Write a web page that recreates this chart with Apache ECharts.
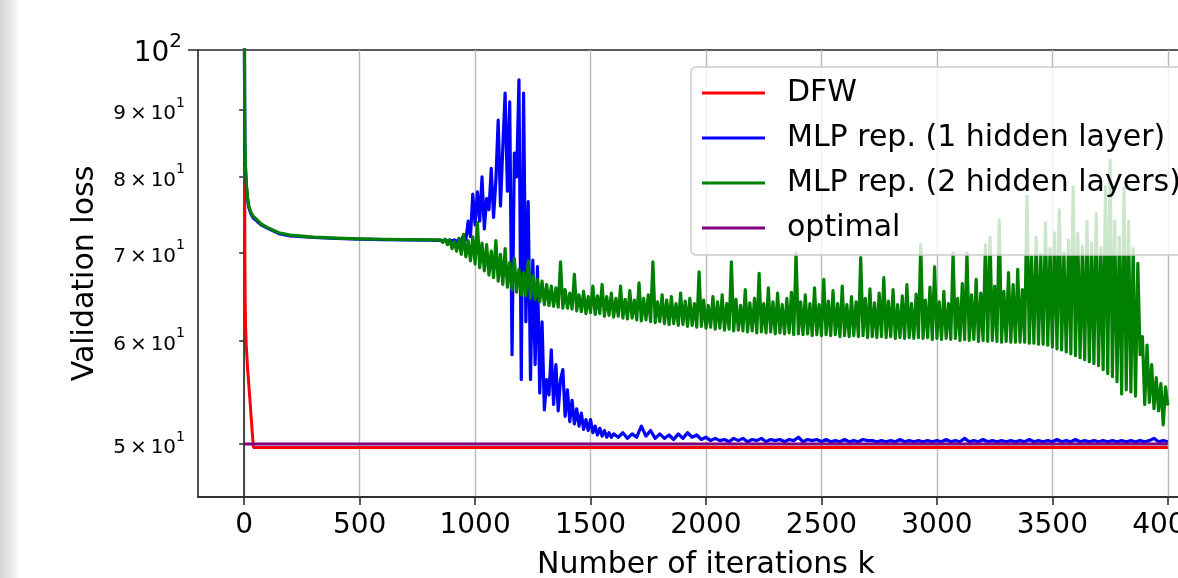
<!DOCTYPE html>
<html><head><meta charset="utf-8">
<script src="https://cdn.jsdelivr.net/npm/echarts@6/dist/echarts.min.js"></script>
<style>html,body{margin:0;padding:0;background:#fff;}#c{width:1178px;height:578px;}</style>
</head><body><div id="c"></div>
<script>
// ---- tick values ----
const xTicks = [0, 500, 1000, 1500, 2000, 2500, 3000, 3500, 4000];
const yMinorTicks = [50, 60, 70, 80, 90];
const yMajorTicks = [100];

// ---- series names ----
const seriesNames = ['DFW', 'MLP rep. (1 hidden layer)', 'MLP rep. (2 hidden layers)', 'optimal'];

// ---- DFW ----
const dfwK = [0, 1, 2, 3, 4, 6, 9, 15, 20, 25, 30, 35, 40, 4000];
const dfwLoss = [140, 100, 80, 70, 65, 61.5, 59.5, 57, 55.5, 54, 52.5, 51, 49.7, 49.7];

// ---- optimal ----
const optimalK = [0, 4000];
const optimalLoss = [50, 50];

// ---- warm-up (smooth) part of the MLP curves ----
const warmupK = [0, 1, 2, 3, 5, 7, 10, 15, 20, 30, 40, 55, 75, 100, 150, 200, 300, 400, 500, 600, 700, 800, 840];
const mlp1WarmupLoss = [140, 103, 91.5, 85, 81.6, 80.2, 78.5, 76.8, 75.8, 74.9, 74.4, 74.0, 73.5, 73.1, 72.4, 72.1, 71.9, 71.78, 71.7, 71.64, 71.6, 71.56, 71.55];
const mlp2WarmupLoss = [140, 104, 92, 85.4, 82, 80.5, 78.8, 77, 76, 75.1, 74.6, 74.2, 73.6, 73.2, 72.5, 72.2, 71.95, 71.82, 71.74, 71.68, 71.63, 71.6, 71.6];

// ---- MLP 1 hidden layer: iterations 850..1600, every 10 ----
const mlp1SpikeStart = 850, mlp1SpikeStep = 10;
const mlp1SpikeLoss = [
  71.55, 71.5, 71.6, 71.45, 71.6,
  71.5, 71.6, 71.4, 71.7, 71.5, 72.2, 71.6, 74.0, 72.0, 77.6,
  73.5, 77.9, 74.0, 80.0, 73.0, 77.0, 75.5, 81.2, 74.5, 79.5,
  88.4, 76.0, 84.2, 92.7, 78.0, 91.3, 58.5, 83.4, 80.0, 94.9,
  56.0, 92.7, 62.0, 76.6, 56.0, 69.1, 57.5, 68.3, 54.7, 62.0,
  53.1, 56.0, 54.5, 59.0, 53.6, 57.5, 53.0, 56.0, 57.0, 52.5,
  55.0, 52.0, 54.0, 51.8, 53.2, 51.6, 52.8, 51.3, 52.2, 51.2,
  52.2, 51.0, 51.6, 50.8, 51.4, 50.7, 51.2, 50.6, 51.0, 50.6, 50.9
];
// ---- MLP 1 hidden layer: iterations 1620..4000, every 20 ----
const mlp1TailStart = 1620, mlp1TailStep = 20;
const mlp1TailLoss = [
  50.6, 51.0, 50.5, 50.9, 50.6, 51.6, 50.7, 51.2, 50.5, 50.9,
  50.5, 50.8, 50.4, 50.9, 50.5, 51.0, 50.6, 50.8, 50.4, 50.6,
  50.3, 50.5, 50.3, 50.4, 50.2, 50.5, 50.3, 50.5, 50.2, 50.4,
  50.3, 50.5, 50.2, 50.4, 50.3, 50.4, 50.2, 50.4, 50.3, 50.6,
  50.2, 50.4, 50.3, 50.4, 50.2, 50.4, 50.2, 50.3, 50.2, 50.4,
  50.2, 50.3, 50.2, 50.4, 50.3, 50.3, 50.2, 50.3, 50.2, 50.3,
  50.2, 50.4, 50.2, 50.3, 50.2, 50.3, 50.2, 50.3, 50.2, 50.3,
  50.2, 50.4, 50.2, 50.3, 50.2, 50.5, 50.2, 50.3, 50.2, 50.4,
  50.2, 50.3, 50.2, 50.3, 50.2, 50.3, 50.2, 50.3, 50.2, 50.4,
  50.2, 50.3, 50.2, 50.3, 50.2, 50.4, 50.2, 50.3, 50.2, 50.4,
  50.2, 50.3, 50.2, 50.3, 50.2, 50.3, 50.2, 50.3, 50.2, 50.3,
  50.2, 50.3, 50.2, 50.3, 50.2, 50.3, 50.5, 50.2, 50.3, 50.2
];

// ---- MLP 2 hidden layers: iterations 850..4000, every 10 ----
const mlp2NoisyStart = 850, mlp2NoisyStep = 10;
const mlp2NoisyLoss = [
  71.6, 71.3, 71.7, 71.0, 71.6, 70.5, 71.4, 70.2, 71.8, 69.8,
  72.3, 69.5, 71.5, 69.0, 72.0, 68.6, 73.8, 68.2, 71.2, 67.8,
  71.0, 67.3, 70.2, 67.0, 71.5, 66.6, 69.8, 66.2, 70.5, 65.9,
  68.8, 65.6, 69.3, 65.3, 68.0, 65.0, 67.6, 64.9, 69.0, 64.6,
  67.2, 64.5, 66.8, 64.2, 66.6, 63.9, 66.2, 63.8, 66.0, 63.7,
  65.8, 63.6, 68.9, 63.5, 65.6, 63.5, 65.2, 63.4, 67.4, 63.2,
  65.0, 63.1, 65.4, 62.9, 64.8, 63.0, 66.0, 62.8, 64.9, 62.9,
  66.2, 62.6, 64.8, 62.7, 65.2, 62.5, 64.6, 62.6, 66.0, 62.4,
  64.5, 62.3, 65.5, 62.4, 64.4, 62.2, 66.4, 62.1, 64.6, 62.2,
  65.0, 62.0, 68.9, 61.9, 64.2, 62.0, 65.0, 61.8, 64.4, 61.7,
  64.8, 61.8, 64.0, 61.6, 65.2, 61.7, 64.3, 61.5, 64.6, 61.6,
  64.0, 61.4, 67.7, 61.5, 64.4, 61.3, 63.8, 61.4, 64.8, 61.2,
  64.2, 61.3, 65.0, 61.1, 64.0, 61.2, 68.9, 61.0, 64.5, 61.1,
  63.8, 61.0, 65.6, 60.9, 64.1, 61.0, 64.6, 60.8, 67.5, 60.9,
  64.0, 60.8, 65.8, 60.9, 64.2, 60.7, 65.2, 60.8, 63.9, 60.7,
  64.6, 60.8, 65.3, 60.6, 70.0, 60.7, 64.2, 60.6, 65.0, 60.7,
  64.0, 60.5, 65.8, 60.6, 63.9, 60.5, 66.8, 60.6, 64.3, 60.5,
  65.5, 60.6, 64.0, 60.4, 66.0, 60.5, 63.9, 60.4, 64.8, 60.5,
  64.2, 60.4, 69.4, 60.5, 64.6, 60.3, 65.7, 60.4, 64.1, 60.3,
  65.2, 60.4, 67.0, 60.3, 64.3, 60.4, 65.6, 60.2, 63.9, 60.3,
  64.9, 60.2, 66.2, 60.3, 64.0, 60.2, 65.1, 60.3, 71.0, 60.2,
  64.4, 60.3, 65.9, 60.1, 68.3, 60.2, 64.2, 60.1, 65.4, 60.2,
  64.0, 60.1, 70.0, 60.2, 64.6, 60.0, 66.3, 60.1, 70.0, 60.0,
  65.0, 60.1, 66.8, 59.9, 65.2, 60.0, 71.0, 59.9, 72.0, 60.0,
  66.0, 59.9, 74.2, 59.8, 65.4, 59.9, 67.6, 59.8, 66.2, 59.8,
  68.0, 59.8, 65.6, 59.8, 77.3, 59.7, 69.5, 59.7, 72.0, 59.6,
  69.8, 59.6, 73.8, 59.5, 70.5, 59.3, 72.5, 59.1, 75.5, 59.0,
  70.0, 58.8, 71.6, 58.6, 78.6, 58.4, 72.4, 58.2, 70.8, 58.0,
  74.0, 57.8, 71.2, 57.6, 75.0, 57.4, 70.6, 57.0, 78.6, 56.6,
  82.4, 56.3, 74.0, 55.8, 72.0, 54.6, 78.4, 55.0, 74.0, 54.8,
  70.5, 54.4, 68.7, 58.5, 60.4, 53.6, 59.5, 53.8, 57.5, 53.2,
  56.2, 53.0, 55.6, 51.7, 55.3, 53.5
];

// ---- helpers that pair iterations with values ----
function pairs(ks, vs) { return ks.map((k, i) => [k, vs[i]]); }
function stepped(start, step, vs) { return vs.map((v, i) => [start + i * step, v]); }

const FONT = 'DejaVu Sans';
const chart = echarts.init(document.getElementById('c'), null, { renderer: 'canvas' });

function minorLabel(v) {
  const d = Math.round(v / 10);
  return '{m|' + d + '\u2009×\u200910}{s|1}';
}
function majorLabel(v) {
  return '{m|10}{s|2}';
}

const lineBase = { type: 'line', symbol: 'none', showSymbol: false, clip: true, animation: false, sampling: null };

chart.setOption({
  animation: false,
  backgroundColor: '#ffffff',
  graphic: [{
    type: 'rect', left: 0, top: 0, shape: { width: 20, height: 578 }, silent: true, z: 0,
    style: { fill: new echarts.graphic.LinearGradient(0, 0, 1, 0, [
      { offset: 0, color: '#d4d4d4' }, { offset: 0.5, color: '#e6e6e6' }, { offset: 1, color: '#ffffff' }]) }
  }],
  grid: {
    left: 198, top: 50, width: 1016, height: 447,
    outerBoundsMode: 'none', containLabel: false,
    show: true, borderColor: '#262626', borderWidth: 1.6, backgroundColor: 'transparent'
  },
  legend: {
    orient: 'vertical', left: 691, top: 67,
    data: seriesNames.map(n => ({ name: n, icon: 'rect' })),
    itemWidth: 63, itemHeight: 3, itemGap: 11,
    padding: [9, 14, 10, 11],
    backgroundColor: 'rgba(255,255,255,0.8)',
    borderColor: '#cccccc', borderWidth: 1.5, borderRadius: 5,
    textStyle: { fontFamily: FONT, fontSize: 30, color: '#000', lineHeight: 34, padding: [0, 0, 0, 17] },
    z: 10
  },
  xAxis: {
    type: 'value', min: -200, max: 4200,
    axisLine: { show: true, lineStyle: { color: '#262626', width: 1.6 } },
    axisTick: { show: true, customValues: xTicks, length: 8, lineStyle: { color: '#262626', width: 1.5 } },
    axisLabel: { customValues: xTicks, formatter: v => String(v), fontFamily: FONT, fontSize: 28, color: '#000', margin: 15 },
    splitLine: { show: true, lineStyle: { color: '#b8b8b8', width: 1.4 } },
    name: 'Number of iterations k', nameLocation: 'middle', nameGap: 53,
    nameTextStyle: { fontFamily: FONT, fontSize: 30, color: '#000' }
  },
  yAxis: [{
    type: 'log', logBase: 10, min: 45.55, max: 100, position: 'left',
    axisLine: { show: true, lineStyle: { color: '#262626', width: 1.6 } },
    splitLine: { show: false }, minorTick: { show: false }, minorSplitLine: { show: false },
    axisTick: { show: true, customValues: yMinorTicks, length: 5, lineStyle: { color: '#262626', width: 1.5 } },
    axisLabel: {
      customValues: yMinorTicks, margin: 13, formatter: minorLabel,
      rich: {
        m: { fontFamily: FONT, fontSize: 20, color: '#000', lineHeight: 28, verticalAlign: 'bottom' },
        s: { fontFamily: FONT, fontSize: 14, color: '#000', lineHeight: 14, verticalAlign: 'top' }
      }
    },
    name: 'Validation loss', nameLocation: 'middle', nameGap: 98, nameRotate: 90,
    nameTextStyle: { fontFamily: FONT, fontSize: 30, color: '#000' }
  }, {
    type: 'log', logBase: 10, min: 45.55, max: 100, position: 'left',
    axisLine: { show: false }, splitLine: { show: false }, minorTick: { show: false },
    axisTick: { show: true, customValues: yMajorTicks, length: 10, lineStyle: { color: '#262626', width: 1.5 } },
    axisLabel: {
      customValues: yMajorTicks, margin: 16, formatter: majorLabel,
      rich: {
        m: { fontFamily: FONT, fontSize: 28, color: '#000', lineHeight: 36, verticalAlign: 'bottom' },
        s: { fontFamily: FONT, fontSize: 20, color: '#000', lineHeight: 20, verticalAlign: 'top' }
      }
    }
  }],
  series: [
    Object.assign({}, lineBase, { name: seriesNames[0], data: pairs(dfwK, dfwLoss),
      lineStyle: { color: '#ff0000', width: 3 }, itemStyle: { color: '#ff0000' }, z: 2 }),
    Object.assign({}, lineBase, { name: seriesNames[1],
      data: pairs(warmupK, mlp1WarmupLoss).concat(stepped(mlp1SpikeStart, mlp1SpikeStep, mlp1SpikeLoss), stepped(mlp1TailStart, mlp1TailStep, mlp1TailLoss)),
      lineStyle: { color: '#0000ff', width: 3.2, join: 'round' }, itemStyle: { color: '#0000ff' }, z: 2 }),
    Object.assign({}, lineBase, { name: seriesNames[2],
      data: pairs(warmupK, mlp2WarmupLoss).concat(stepped(mlp2NoisyStart, mlp2NoisyStep, mlp2NoisyLoss)),
      lineStyle: { color: '#008000', width: 3.2, join: 'round' }, itemStyle: { color: '#008000' }, z: 2 }),
    Object.assign({}, lineBase, { name: seriesNames[3], data: pairs(optimalK, optimalLoss),
      lineStyle: { color: '#800080', width: 3 }, itemStyle: { color: '#800080' }, z: 2 })
  ]
});
</script>
</body></html>
